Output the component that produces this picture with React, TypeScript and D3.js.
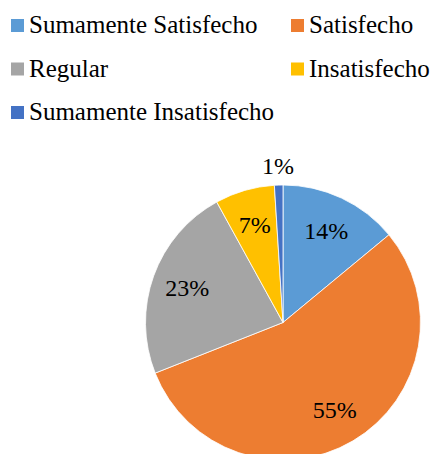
import React from 'react';
import * as d3 from 'd3';

const categories = ['Sumamente Satisfecho', 'Satisfecho', 'Regular', 'Insatisfecho', 'Sumamente Insatisfecho'];
const values = [14, 55, 23, 7, 1];
const colors = ['#5B9BD5', '#ED7D31', '#A5A5A5', '#FFC000', '#4472C4'];

const width = 438,
      height = 454;

const cx = 283,
      cy = 322.5,
      radius = 137.5;

const font = "'Liberation Serif', 'Times New Roman', serif";

export default function App() {
  const pie = d3.pie<number>().sort(null).value(d => d);
  const arcs = pie(values);

  const arc = d3.arc<d3.PieArcDatum<number>>()
    .innerRadius(0)
    .outerRadius(radius);

  const labelArc = d3.arc<d3.PieArcDatum<number>>()
    .innerRadius(radius * 0.74)
    .outerRadius(radius * 0.74);

  const outsideArc = d3.arc<d3.PieArcDatum<number>>()
    .innerRadius(radius * 1.14)
    .outerRadius(radius * 1.14);

  const total = d3.sum(values);

  // legend: two columns, three rows
  const legendCols = [11, 291];
  const rowStep = 43.5;

  return (
    <svg
      width={width}
      height={height}
      style={{ position: 'absolute', left: 0, top: 0, background: '#fff', fontFamily: font }}
    >
      <g style={{ fontFamily: font, fontSize: '25px' }} fill="#000">
        {categories.map((c, i) => {
          const x = legendCols[i % 2];
          const y = 19 + Math.floor(i / 2) * rowStep;
          return (
            <g key={c}>
              <rect x={x} y={y} width={13} height={13} fill={colors[i]} />
              <text x={x + 18} y={y + 14}>{c}</text>
            </g>
          );
        })}
      </g>

      <g transform={'translate(' + cx + ',' + cy + ')'}>
        {arcs.map((d, i) => (
          <path key={i} d={arc(d) || ''} fill={colors[i]} stroke="#fff" strokeWidth={0.8} />
        ))}
        {arcs.map((d, i) => {
          const pct = Math.round((d.data / total) * 100);
          const small = pct < 2;
          const [x, y] = small ? outsideArc.centroid(d) : labelArc.centroid(d);
          return (
            <text
              key={'l' + i}
              x={x}
              y={y}
              dy="0.35em"
              textAnchor="middle"
              style={{ fontFamily: font, fontSize: '24px' }}
              fill="#000"
            >
              {pct}%
            </text>
          );
        })}
      </g>
    </svg>
  );
}
